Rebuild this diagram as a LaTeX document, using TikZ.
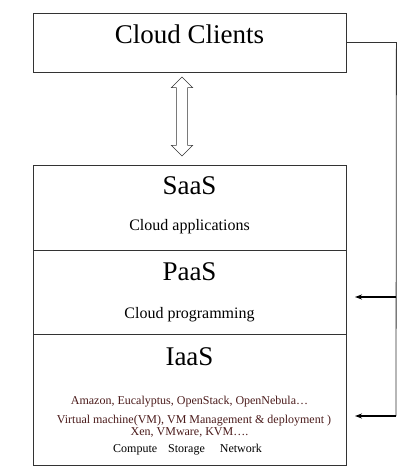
\documentclass[tikz,border=0pt]{standalone}
\usepackage{fontspec}
\setmainfont{Liberation Serif}
\usepackage{tikz}
\usetikzlibrary{arrows.meta, positioning, calc, shapes.arrows}
\definecolor{vendorred}{HTML}{4A1A1A}

\begin{document}
\begin{tikzpicture}[x=1pt, y=-1pt,
    layerbox/.style={draw=black!80, line width=0.8pt, minimum width=313pt, inner sep=0pt},
    bigtitle/.style={font=\fontsize{27}{30}\selectfont, anchor=base, inner sep=0pt},
    subtitle/.style={font=\fontsize{16}{18}\selectfont, anchor=base, inner sep=0pt},
    detail/.style={font=\fontsize{12}{13}\selectfont, anchor=base, inner sep=0pt, text=vendorred},
    rail/.style={draw=black!80, line width=0.8pt},
    feed/.style={line width=1.4pt, -{Stealth[length=7pt, width=5pt]}}]
  \useasboundingbox (0,0) rectangle (407,476);
  % clients on top
  \node[layerbox, minimum height=59pt] (clients) at (189.5,42.5) {};
  \node[bigtitle] (clientslbl) at (189.5,43.3) {Cloud Clients};
  % the three service layers
  \node[layerbox, minimum height=85pt] (saas) at (189.5,207.5) {};
  \node[layerbox, minimum height=84pt] (paas) at (189.5,292) {};
  \node[layerbox, minimum height=131pt] (iaas) at (189.5,399.5) {};
  \node[bigtitle] (saaslbl) at (189.5,194.3) {SaaS};
  \node[subtitle] (saassub) at (189.5,230.7) {Cloud applications};
  \node[bigtitle] (paaslbl) at (189.5,280.7) {PaaS};
  \node[subtitle] (paassub) at (189.5,318.5) {Cloud programming};
  \node[bigtitle] (iaaslbl) at (189.5,365) {IaaS};
  \node[detail] (vendors) at (189.5,404) {Amazon, Eucalyptus, OpenStack, OpenNebula\ldots};
  \node[detail] (vmline) at (194,423) {Virtual machine(VM), VM Management \& deployment )};
  \node[detail] (hyper) at (189.5,435.3) {Xen, VMware, KVM\ldots.};
  \node[detail, text=black] (res) at (187.5,452) {Compute\hspace{11pt}Storage\hspace{15pt}Network};
  % access arrow
  \node[double arrow, draw=black!80, line width=0.6pt, shape border rotate=90,
    minimum height=79pt, minimum width=21pt, double arrow head extend=5pt,
    inner xsep=5.3pt, inner ysep=0pt] (access) at (182,116.5) {};
  % management rail
  \coordinate (railtop) at ($(clients.east)+(50,0)$);
  \coordinate (railbot) at (396,416);
  \coordinate (paasin) at (355,297);
  \coordinate (iaasin) at (355,416);
  \draw[rail] (clients.east) -- (railtop) -- (railbot);
  \draw[feed] (railtop |- paasin) -- (paasin);
  \draw[feed] (railbot) -- (iaasin);
\end{tikzpicture}
\end{document}
